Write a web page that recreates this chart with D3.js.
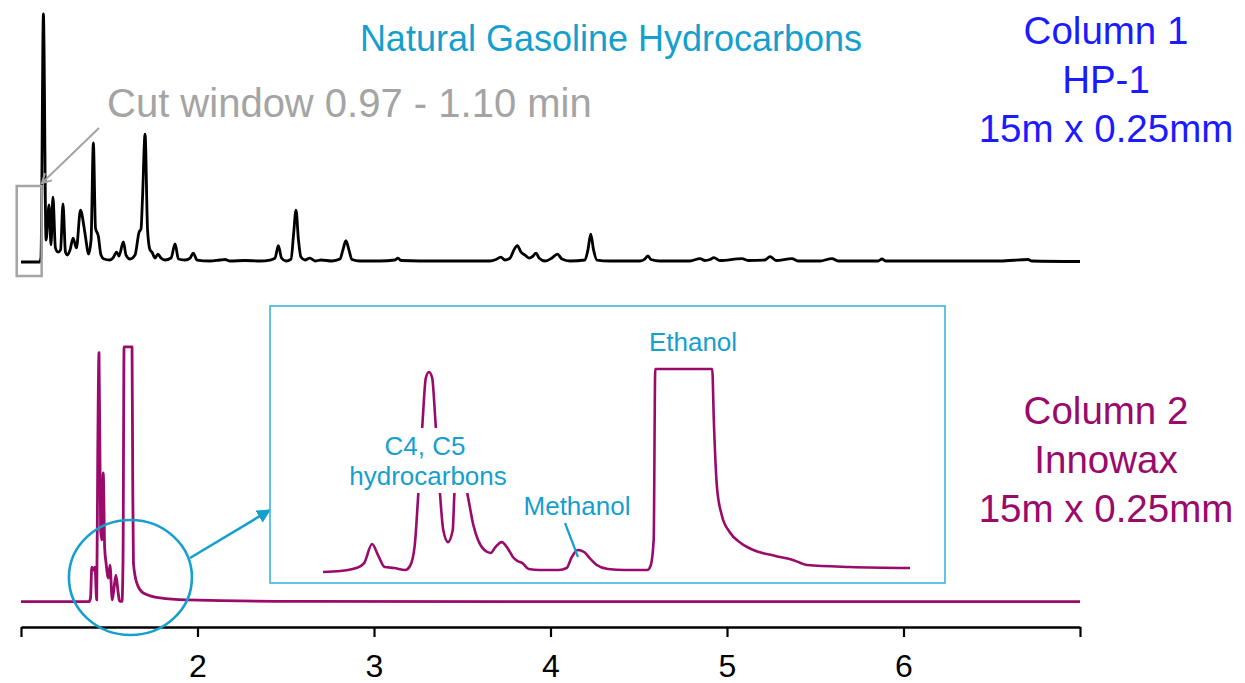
<!DOCTYPE html>
<html>
<head>
<meta charset="utf-8">
<script src="https://cdn.jsdelivr.net/npm/d3@7"></script>
<style>
  html, body { margin: 0; padding: 0; background: #fff; }
  svg { display: block; font-family: "Liberation Sans", Arial, Helvetica, sans-serif; }
</style>
</head>
<body>
<svg id="chart" width="1245" height="683"></svg>
<script>
// Column 1 (HP-1): retention time (min) and detector response (% of largest peak)
const hp1Time = [
  1.000, 1.105, 1.113, 1.127, 1.142, 1.159, 1.170, 1.181, 1.195, 1.210,
  1.224, 1.238, 1.252, 1.263, 1.278, 1.295, 1.314, 1.337, 1.357, 1.368,
  1.382, 1.397, 1.410, 1.422, 1.438, 1.453, 1.470, 1.504, 1.521, 1.542,
  1.555, 1.580, 1.595, 1.618, 1.646, 1.669, 1.680, 1.688, 1.703, 1.717,
  1.731, 1.742, 1.759, 1.776, 1.793, 1.816, 1.850, 1.873, 1.892, 1.929,
  1.958, 1.976, 1.997, 2.071, 2.127, 2.156, 2.184, 2.269, 2.354, 2.411,
  2.439, 2.458, 2.476, 2.501, 2.530, 2.544, 2.558, 2.572, 2.586, 2.609,
  2.637, 2.666, 2.700, 2.762, 2.807, 2.824, 2.841, 2.858, 2.875, 2.921,
  3.034, 3.119, 3.136, 3.153, 3.261, 3.487, 3.657, 3.691, 3.718, 3.742,
  3.771, 3.793, 3.812, 3.833, 3.856, 3.878, 3.901, 3.918, 3.935, 3.969,
  4.008, 4.039, 4.065, 4.111, 4.195, 4.212, 4.228, 4.244, 4.263, 4.337,
  4.507, 4.535, 4.552, 4.569, 4.620, 4.790, 4.847, 4.875, 4.904, 4.926,
  4.960, 5.085, 5.119, 5.215, 5.244, 5.278, 5.368, 5.402, 5.527, 5.595,
  5.629, 5.856, 5.878, 5.901, 6.207, 6.547, 6.705, 6.728, 7.000
];
const hp1Signal = [
  -0.4, -0.4, 1.2, 100, 8.5, 22.7, 6.5, 25.9, 5.3, 3.6,
  4.5, 23.1, 3.6, 2.4, 4.5, 9.3, 5.3, 20.6, 13.8, 8.5,
  2.8, 8.5, 47.8, 13.4, 10.1, 2.4, 0.8, 0.4, 1.2, 3.6,
  2.0, 7.7, 2.4, 0.8, 2.4, 11.7, 13.0, 24.7, 51.4, 12.6,
  4.5, 3.6, 1.2, 2.8, 1.2, 0.4, 1.2, 6.9, 0.8, 0.4,
  1.2, 3.2, 0.4, 0, 0.4, 0.6, 0, 0.2, 0, 0.4,
  1.2, 6.2, 1.2, 0, 0.8, 10.5, 20.6, 8.5, 1.6, 0.4,
  1.2, 0, 0.4, 0, 0.8, 4.5, 8.2, 4.5, 0.6, 0,
  0, 0.4, 1.2, 0.2, 0, 0, 0, 0.6, 1.6, 0.4,
  1.2, 4.5, 6.2, 3.6, 2.4, 1.2, 2.0, 3.2, 1.2, 0,
  1.2, 2.8, 0.8, 0, 0.4, 4.5, 10.9, 4.5, 0.4, 0,
  0, 0.8, 2.1, 0.6, 0, 0, 1.0, 0.2, 0.6, 1.4,
  0.2, 1.0, 0.2, 0.4, 1.8, 0.2, 1.0, 0, 0, 1.0,
  0, 0, 0.8, 0, 0, 0, 0.6, 0, -0.2
];

// Column 2 (Innowax): retention time (min) and detector response (% of largest peak)
const waxTime = [
  1.000, 1.385, 1.394, 1.401, 1.410, 1.419, 1.429, 1.435, 1.442, 1.451,
  1.458, 1.466, 1.474, 1.482, 1.495, 1.504, 1.517, 1.527, 1.538, 1.550,
  1.558, 1.572, 1.578, 1.584, 1.629, 1.633, 1.637, 1.656, 1.693, 1.788,
  1.939, 2.581, 7.000
];
const waxSignal = [
  0, 0, 1.5, 13.9, 12.7, 13.9, 0.7, 60.9, 100, 28.8,
  24.8, 51.7, 21.6, 15.5, 9.5, 14.7, 0.7, 5.5, 10.7, 3.9,
  0.3, 0.1, 16.7, 102.3, 102.3, 48.9, 15.5, 7.5, 3.5, 1.5,
  0.7, 0.1, 0
];

// Innowax detail, 1.375 - 1.746 min
const detailTime = [
  1.375, 1.386, 1.396, 1.401, 1.406, 1.410, 1.414, 1.420, 1.427, 1.430,
  1.433, 1.435, 1.438, 1.440, 1.442, 1.444, 1.446, 1.449, 1.451, 1.454,
  1.457, 1.458, 1.460, 1.462, 1.464, 1.467, 1.470, 1.473, 1.477, 1.481,
  1.484, 1.488, 1.492, 1.495, 1.498, 1.501, 1.505, 1.512, 1.524, 1.529,
  1.532, 1.536, 1.540, 1.544, 1.548, 1.555, 1.566, 1.580, 1.582, 1.584,
  1.585, 1.621, 1.622, 1.624, 1.627, 1.632, 1.639, 1.647, 1.661, 1.672,
  1.681, 1.708, 1.746
];
const detailSignal = [
  -1.0, -0.5, 1.0, 3.5, 13.1, 7.1, 1.5, 1.0, 0, 2.0,
  12.6, 35.4, 75.8, 97.0, 100, 97.0, 75.8, 37.9, 20.2, 14.1,
  20.2, 37.9, 55.6, 56.6, 48.0, 35.4, 22.7, 15.2, 10.1, 8.6,
  11.6, 14.1, 10.6, 6.6, 4.5, 3.5, 0.5, 0, 0, 1.0,
  6.1, 10.1, 9.1, 5.6, 2.5, 0.5, 0, 0, 2.0, 15.2,
  101.5, 101.5, 75.8, 41.9, 27.8, 19.2, 13.6, 10.1, 7.1, 5.1,
  2.5, 1.5, 1.0
];

const majorTicks = [1, 2, 3, 4, 5, 6, 7];
const tickLabels = ["", "2", "3", "4", "5", "6", ""];
const minorTicks = d3.range(1, 7.0001, 0.2).filter(t => Math.abs(t - Math.round(t)) > 1e-6);
const cutWindow = [0.97, 1.10];
const zoomCentre = 1.62; // min, centre of the circled region

const svg = d3.select("#chart");
svg.append("rect").attr("width", 1245).attr("height", 683).attr("fill", "#fff");

const x = d3.scaleLinear().domain([1, 7]).range([21, 1080]);
const yTop = d3.scaleLinear().domain([0, 100]).range([261, 14]);
const yBot = d3.scaleLinear().domain([0, 100]).range([601.7, 352.7]);
const xDet = d3.scaleLinear().domain([1.375, 1.746]).range([323, 910]);
const yDet = d3.scaleLinear().domain([0, 100]).range([570, 372]);

const PURPLE = "#990a6b", CYAN = "#159fcf", GREY = "#a4a4a4";

const zip = (ts, vs) => ts.map((t, i) => ({ t, v: vs[i] }));

// Bottom time axis
const axisY = 627;
const gAx = svg.append("g").attr("transform", `translate(0,${axisY})`);
gAx.call(d3.axisBottom(x).tickValues(minorTicks).tickSize(6).tickSizeOuter(0).tickFormat(""));
gAx.call(d3.axisBottom(x).tickValues(majorTicks).tickSize(10).tickSizeOuter(0).tickPadding(17)
  .tickFormat((d, i) => tickLabels[i]));
gAx.selectAll("path.domain").attr("stroke", "#000").attr("stroke-width", 2.4);
gAx.selectAll(".tick line").attr("stroke", "#000").attr("stroke-width", 2.2);
gAx.selectAll(".tick text").attr("font-size", 32).attr("fill", "#000")
  .attr("font-family", "'Liberation Sans', Arial, sans-serif");

// Column 1 trace
svg.append("path")
  .datum(zip(hp1Time, hp1Signal))
  .attr("fill", "none").attr("stroke", "#000").attr("stroke-width", 2.8)
  .attr("stroke-linejoin", "round")
  .attr("d", d3.line().curve(d3.curveMonotoneX).x(d => x(d.t)).y(d => yTop(d.v)));

// Column 2 trace
svg.append("path")
  .datum(zip(waxTime, waxSignal))
  .attr("fill", "none").attr("stroke", PURPLE).attr("stroke-width", 2.8)
  .attr("stroke-linejoin", "round")
  .attr("d", d3.line().curve(d3.curveMonotoneX).x(d => x(d.t)).y(d => yBot(d.v)));

// Cut window box and its callout
svg.append("rect")
  .attr("x", x(cutWindow[0]) + 1).attr("y", 186)
  .attr("width", x(cutWindow[1]) - x(cutWindow[0]) + 2).attr("height", 90)
  .attr("fill", "none").attr("stroke", GREY).attr("stroke-width", 2.5);

const defs = svg.append("defs");
defs.append("marker").attr("id", "greyHead").attr("viewBox", "0 0 12 12")
  .attr("refX", 10).attr("refY", 6).attr("markerWidth", 12).attr("markerHeight", 12)
  .attr("markerUnits", "userSpaceOnUse").attr("orient", "auto")
  .append("path").attr("d", "M1,1 L10,6 L1,11").attr("fill", "none")
  .attr("stroke", GREY).attr("stroke-width", 2);
defs.append("marker").attr("id", "cyanHead").attr("viewBox", "0 0 12 12")
  .attr("refX", 11).attr("refY", 6).attr("markerWidth", 14).attr("markerHeight", 14)
  .attr("markerUnits", "userSpaceOnUse").attr("orient", "auto")
  .append("path").attr("d", "M0,0 L12,6 L0,12 Z").attr("fill", CYAN);

svg.append("line").attr("x1", 99).attr("y1", 128).attr("x2", 42).attr("y2", 183)
  .attr("stroke", GREY).attr("stroke-width", 2).attr("marker-end", "url(#greyHead)");

svg.append("text").attr("x", 107).attr("y", 117)
  .attr("font-size", 40).attr("fill", GREY)
  .text("Cut window 0.97 - 1.10 min");

// Title
svg.append("text").attr("x", 611).attr("y", 51).attr("text-anchor", "middle")
  .attr("font-size", 36).attr("fill", CYAN)
  .text("Natural Gasoline Hydrocarbons");

// Column captions
const col1 = ["Column 1", "HP-1", "15m x 0.25mm"];
const col2 = ["Column 2", "Innowax", "15m x 0.25mm"];
svg.append("g").selectAll("text").data(col1).join("text")
  .attr("x", 1106).attr("y", (d, i) => 44 + i * 49).attr("text-anchor", "middle")
  .attr("font-size", 38.5).attr("fill", "#1b1bff").text(d => d);
svg.append("g").selectAll("text").data(col2).join("text")
  .attr("x", 1106).attr("y", (d, i) => 424 + i * 49).attr("text-anchor", "middle")
  .attr("font-size", 38.5).attr("fill", PURPLE).text(d => d);

// Circled region and pointer to the detail panel
svg.append("ellipse").attr("cx", x(zoomCentre)).attr("cy", 577.5).attr("rx", 61.5).attr("ry", 57.5)
  .attr("fill", "none").attr("stroke", CYAN).attr("stroke-width", 2.6);
svg.append("line").attr("x1", 190).attr("y1", 558).attr("x2", 270).attr("y2", 510)
  .attr("stroke", CYAN).attr("stroke-width", 2.6).attr("marker-end", "url(#cyanHead)");

// Detail panel
svg.append("rect").attr("x", 270).attr("y", 306).attr("width", 675).attr("height", 277)
  .attr("fill", "#fff").attr("stroke", "#3db3df").attr("stroke-width", 1.6);

svg.append("path")
  .datum(zip(detailTime, detailSignal))
  .attr("fill", "none").attr("stroke", PURPLE).attr("stroke-width", 2.6)
  .attr("stroke-linejoin", "round")
  .attr("d", d3.line().curve(d3.curveMonotoneX).x(d => xDet(d.t)).y(d => yDet(d.v)));

// Peak labels
svg.append("rect").attr("x", 345).attr("y", 428).attr("width", 168).attr("height", 65).attr("fill", "#fff");
svg.append("text").attr("x", 425).attr("y", 455).attr("text-anchor", "middle")
  .attr("font-size", 26).attr("fill", CYAN).text("C4, C5");
svg.append("text").attr("x", 428).attr("y", 485).attr("text-anchor", "middle")
  .attr("font-size", 26).attr("fill", CYAN).text("hydrocarbons");
svg.append("text").attr("x", 577).attr("y", 515).attr("text-anchor", "middle")
  .attr("font-size", 26).attr("fill", CYAN).text("Methanol");
svg.append("line").attr("x1", 565).attr("y1", 523).attr("x2", 578).attr("y2", 557)
  .attr("stroke", CYAN).attr("stroke-width", 2.2);
svg.append("text").attr("x", 693).attr("y", 351).attr("text-anchor", "middle")
  .attr("font-size", 26).attr("fill", CYAN).text("Ethanol");
</script>
</body>
</html>
